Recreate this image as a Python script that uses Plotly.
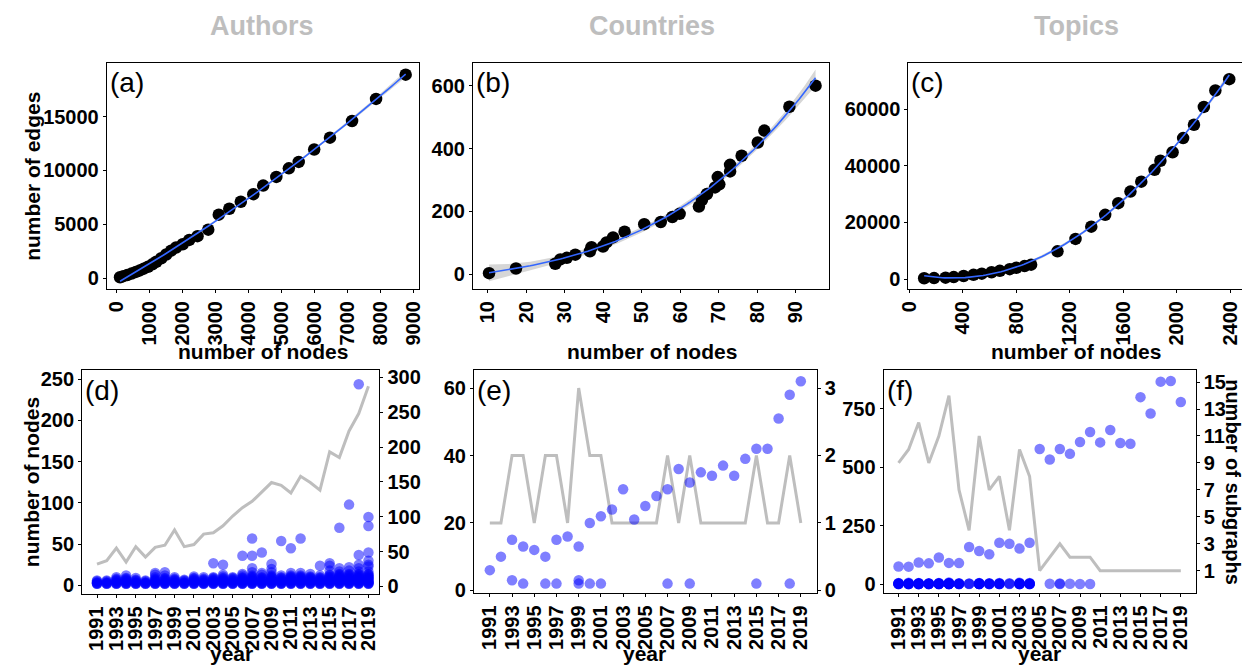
import numpy as np
import plotly.graph_objects as go

# ---------------- data ----------------
a_nodes = [100, 200, 320, 450, 580, 700, 820, 950, 1080, 1200, 1350, 1500, 1650, 1800, 2000, 2200, 2450,
           2775, 3094, 3413, 3762, 4142, 4441, 4840, 5220, 5519, 5988, 6467, 7136, 7864, 8762]
a_edges = [80, 180, 280, 420, 580, 720, 880, 1060, 1280, 1520, 1850, 2200, 2550, 2850, 3150, 3550, 3900,
           4500, 5900, 6450, 7100, 7800, 8600, 9400, 10200, 10800, 11950, 13050, 14600, 16650, 18900]

b_nodes = [10.3, 17.3, 27.5, 28.8, 30.5, 32.7, 36.5, 36.9, 39.9, 40.8, 42.5, 45.5, 50.6, 54.9, 57.9, 59.8,
           64.8, 65.6, 66.9, 69.0, 69.7, 70.1, 72.9, 72.9, 75.9, 80.1, 81.8, 88.3, 95.1]
b_edges = [3, 18, 33, 47, 52, 62, 73, 86, 88, 101, 117, 135, 159, 166, 182, 192,
           215, 236, 255, 276, 309, 286, 327, 348, 377, 419, 457, 533, 600]

c_nodes = [111, 185, 271, 332, 406, 480, 542, 615, 677, 751, 800, 862, 911, 1108, 1243, 1361, 1465, 1563,
           1654, 1735, 1834, 1878, 1969, 2048, 2129, 2203, 2289, 2393]
c_edges = [300, 350, 500, 700, 1100, 1500, 1900, 2400, 2900, 3500, 4000, 4600, 5100, 9800, 14200, 18500,
           22700, 26800, 30900, 34400, 38600, 41800, 44800, 49800, 54500, 60800, 66600, 70600]

years = [1991, 1992, 1993, 1994, 1995, 1996, 1997, 1998, 1999, 2000, 2001, 2002, 2003, 2004, 2005,
         2006, 2007, 2008, 2009, 2010, 2011, 2012, 2013, 2014, 2015, 2016, 2017, 2018, 2019]

# Authors: subgraph sizes per year (visible values) and number of subgraphs
d_sizes = [
    [2, 2, 3, 3, 4, 5, 6],
    [2, 2, 3, 3, 4, 5, 6],
    [2, 2, 3, 3, 4, 5, 6, 7, 8, 10],
    [2, 2, 3, 3, 4, 5, 6, 7, 8, 9, 12],
    [2, 2, 3, 3, 4, 5, 6, 7, 9],
    [2, 2, 3, 3, 4, 5, 6],
    [2, 2, 3, 3, 4, 5, 6, 7, 8, 10, 13, 15],
    [2, 2, 3, 3, 4, 5, 6, 7, 8, 9, 12, 16],
    [2, 2, 3, 3, 4, 5, 6, 7, 8, 10],
    [2, 2, 3, 3, 4, 5, 6, 7],
    [2, 2, 3, 3, 4, 5, 6, 7, 8, 9, 11],
    [2, 2, 3, 3, 4, 5, 6, 7, 8, 10],
    [2, 2, 3, 3, 4, 5, 6, 7, 8, 9, 10, 27],
    [2, 2, 3, 3, 4, 5, 6, 7, 8, 9, 11, 13, 25],
    [2, 2, 3, 3, 4, 5, 6, 7, 8, 9, 10],
    [2, 2, 3, 3, 4, 5, 6, 7, 8, 9, 10, 12, 14, 36],
    [2, 2, 3, 3, 4, 5, 6, 7, 8, 9, 10, 11, 12, 16, 21, 36, 57],
    [2, 2, 3, 3, 4, 5, 6, 7, 8, 9, 10, 13, 15, 40],
    [2, 2, 3, 3, 4, 5, 6, 7, 8, 9, 10, 11, 12, 16, 20, 26],
    [2, 2, 3, 3, 4, 5, 6, 7, 8, 9, 10, 12, 54],
    [2, 2, 3, 3, 4, 5, 6, 7, 8, 9, 10, 11, 12, 15, 45],
    [2, 2, 3, 3, 4, 5, 6, 7, 8, 9, 10, 11, 12, 15, 57],
    [2, 2, 3, 3, 4, 5, 6, 7, 8, 9, 10, 11, 14],
    [2, 2, 3, 3, 4, 5, 6, 7, 8, 9, 10, 12, 24],
    [2, 2, 3, 3, 4, 5, 6, 7, 8, 9, 10, 11, 12, 13, 18, 24, 27],
    [2, 2, 3, 3, 4, 5, 6, 7, 8, 9, 10, 11, 12, 13, 14, 17, 21, 70],
    [2, 2, 3, 3, 4, 5, 6, 7, 8, 9, 10, 11, 12, 13, 14, 18, 22, 98],
    [2, 2, 3, 3, 4, 5, 6, 7, 8, 9, 10, 11, 12, 13, 14, 17, 21, 25, 37, 244],
    [2, 2, 3, 3, 4, 5, 6, 7, 8, 9, 10, 11, 12, 13, 14, 17, 23, 25, 30, 40, 72, 83],
]
d_subgraphs = [32, 37, 55, 35, 57, 42, 56, 59, 81, 57, 60, 75, 77, 87, 101, 113, 122, 136, 149, 145,
               134, 158, 149, 138, 193, 185, 223, 248, 287]

# Countries
e_sizes = [[6], [10], [15, 3], [13, 2], [12], [10, 2], [15, 2], [16], [13, 3, 2], [20, 2], [22, 2], [24],
           [30], [21], [25], [28], [30, 2], [36], [32, 2], [35], [34], [37], [34], [39], [42, 2], [42],
           [51], [58, 2], [62]]
e_subgraphs = [1, 1, 2, 2, 1, 2, 2, 1, 3, 2, 2, 1, 1, 1, 1, 1, 2, 1, 2, 1, 1, 1, 1, 1, 2, 1, 1, 2, 1]

# Topics
f_largest = [77, 76, 94, 90, 115, 92, 91, 160, 143, 129, 178, 174, 153, 178, 578, 533, 578, 557, 608,
             650, 606, 659, 603, 600, 799, 729, 865, 868, 778]
f_small = [[3, 2, 4, 2, 5, 2, 3, 6], [2, 3, 2, 4, 2, 3, 5, 2, 7], [2, 3, 2, 4, 2, 3, 5, 2, 6, 3, 2],
           [2, 3, 2, 4, 2, 3, 5, 2], [2, 3, 2, 4, 2, 3, 5, 2, 6, 3], [2, 3, 2, 4, 2, 3, 5, 2, 6, 3, 2, 4, 8],
           [2, 3, 2, 4, 2, 5], [2, 3, 4], [2, 3, 2, 4, 2, 3, 5, 2, 6, 3], [2, 3, 2, 4, 2, 5],
           [2, 3, 2, 4, 2, 3, 6], [2, 3, 5], [2, 3, 2, 4, 2, 3, 5, 2, 7], [2, 3, 2, 4, 2, 3, 6],
           [], [3], [2, 4], [3], [2], [2], [], [], [], [], [], [], [], [], []]
f_subgraphs = [9, 10, 12, 9, 11, 14, 7, 4, 11, 7, 8, 4, 10, 8, 1, 2, 3, 2, 2, 2, 1, 1, 1, 1, 1, 1, 1, 1, 1]

col_titles = ["Authors", "Countries", "Topics"]
tags = ["(a)", "(b)", "(c)", "(d)", "(e)", "(f)"]

# ---------------- helpers ----------------
# the page body keeps its default 8px margin; size the figure so it fills the window to its edges
OFF = 8
W, H = 1250 - OFF, 672 - OFF
FONT = "Liberation Sans, Arial, sans-serif"


def px(x):
    return (x - OFF) / W


def py(y):
    return 1 - (y - OFF) / H


def fit_band(x, y, deg, n=120):
    x = np.asarray(x, float)
    y = np.asarray(y, float)
    xs = np.linspace(x.min(), x.max(), n)
    X = np.vander(x, deg + 1)
    coef, *_ = np.linalg.lstsq(X, y, rcond=None)
    res = y - X @ coef
    s2 = (res @ res) / max(len(x) - deg - 1, 1)
    XtXi = np.linalg.inv(X.T @ X)
    Xs = np.vander(xs, deg + 1)
    fit = Xs @ coef
    se = np.sqrt(np.einsum("ij,jk,ik->i", Xs, XtXi, Xs) * s2)
    return xs, fit, fit - 2.05 * se, fit + 2.05 * se


def flatten(yrs, lists):
    xx, yy = [], []
    for yr, lst in zip(yrs, lists):
        for v in lst:
            xx.append(yr)
            yy.append(v)
    return xx, yy


fig = go.Figure()

BLUE_LINE = "#3366FF"
GREY = "#BEBEBE"
PT_BLUE = "rgba(0,0,255,0.5)"

# ---- top row ----
top = [(a_nodes, a_edges, 2, "x", "y"), (b_nodes, b_edges, 3, "x2", "y2"), (c_nodes, c_edges, 3, "x3", "y3")]
for xs_, ys_, deg, xa, ya in top:
    xs, fit, lo, hi = fit_band(xs_, ys_, deg)
    fig.add_trace(go.Scatter(x=np.concatenate([xs, xs[::-1]]), y=np.concatenate([hi, lo[::-1]]),
                             fill="toself", fillcolor="rgba(153,153,153,0.4)", line=dict(width=0),
                             mode="lines", hoverinfo="skip", showlegend=False, xaxis=xa, yaxis=ya))
    fig.add_trace(go.Scatter(x=xs_, y=ys_, mode="markers",
                             marker=dict(color="black", size=12.5, line=dict(width=0)),
                             showlegend=False, xaxis=xa, yaxis=ya))
    fig.add_trace(go.Scatter(x=xs, y=fit, mode="lines", line=dict(color=BLUE_LINE, width=1.6),
                             showlegend=False, xaxis=xa, yaxis=ya))

# ---- bottom row ----
# base axes (y4,y5,y6) = right axis with grey line; overlay axes (y7,y8,y9) = left axis with points
dx, dy = flatten(years, d_sizes)
ex, ey = flatten(years, e_sizes)
fx, fy = flatten(years, f_small)

fig.add_trace(go.Scatter(x=years, y=d_subgraphs, mode="lines", line=dict(color=GREY, width=3),
                         showlegend=False, xaxis="x4", yaxis="y4"))
fig.add_trace(go.Scatter(x=dx, y=dy, mode="markers", marker=dict(color=PT_BLUE, size=10.5, line=dict(width=0)),
                         showlegend=False, xaxis="x4", yaxis="y7"))
fig.add_trace(go.Scatter(x=years, y=e_subgraphs, mode="lines", line=dict(color=GREY, width=3),
                         showlegend=False, xaxis="x5", yaxis="y5"))
fig.add_trace(go.Scatter(x=ex, y=ey, mode="markers", marker=dict(color=PT_BLUE, size=10.5, line=dict(width=0)),
                         showlegend=False, xaxis="x5", yaxis="y8"))
fig.add_trace(go.Scatter(x=years, y=f_subgraphs, mode="lines", line=dict(color=GREY, width=3),
                         showlegend=False, xaxis="x6", yaxis="y6"))
fig.add_trace(go.Scatter(x=fx + list(years), y=fy + list(f_largest), mode="markers",
                         marker=dict(color=PT_BLUE, size=10.5, line=dict(width=0)),
                         showlegend=False, xaxis="x6", yaxis="y9"))

# ---------------- layout ----------------
tickfont = dict(family=FONT, size=20, color="black", weight="bold")


def ax(domain, rng, anchor, **kw):
    d = dict(domain=domain, range=rng, anchor=anchor, showgrid=False, zeroline=False,
             showline=True, linecolor="black", linewidth=1.2, mirror=True,
             ticks="outside", ticklen=3, tickcolor="black", tickwidth=1,
             tickfont=tickfont, tickformat="d")
    d.update(kw)
    return d


topY = [py(290), py(60)]
botY_d = [py(601), py(373)]
botY_e = [py(600), py(373)]

layout = dict(
    width=W, height=H, autosize=False,
    margin=dict(l=0, r=0, t=0, b=0),
    paper_bgcolor="white", plot_bgcolor="white",
    font=dict(family=FONT),
    showlegend=False,
    xaxis=ax([px(97), px(413)], [-300, 9160], "y", tickmode="linear", tick0=0, dtick=1000, tickangle=-90),
    yaxis=ax(topY, [-1000, 19980], "x", tickmode="linear", tick0=0, dtick=5000),
    xaxis2=ax([px(468), px(829)], [6.15, 98.7], "y2", tickmode="linear", tick0=10, dtick=10, tickangle=-90),
    yaxis2=ax(topY, [-47, 672], "x2", tickmode="linear", tick0=0, dtick=200),
    xaxis3=ax([px(909), px(1248)], [-7, 2496], "y3", tickmode="linear", tick0=0, dtick=400, tickangle=-90),
    yaxis3=ax(topY, [-3470, 76300], "x3", tickmode="linear", tick0=0, dtick=20000),
    xaxis4=ax([px(72), px(373)], [1989.47, 2020.12], "y4", tickmode="linear", tick0=1991, dtick=2,
              tickangle=-90),
    yaxis4=ax(botY_d, [-11.3, 309.9], "x4", side="right", tickmode="linear", tick0=0, dtick=50),
    yaxis7=ax(botY_d, [-10.7, 260.7], "x4", side="left", overlaying="y4", tickmode="linear", tick0=0, dtick=50,
              mirror=False),
    xaxis5=ax([px(469), px(816)], [1989.58, 2020.42], "y5", tickmode="linear", tick0=1991, dtick=2,
              tickangle=-90),
    yaxis5=ax(botY_e, [-0.044, 3.262], "x5", side="right", tickmode="linear", tick0=0, dtick=1),
    yaxis8=ax(botY_e, [-0.87, 65.24], "x5", side="left", overlaying="y5", tickmode="linear", tick0=0, dtick=20,
              mirror=False),
    xaxis6=ax([px(884), px(1200)], [1989.53, 2020.47], "y6", tickmode="linear", tick0=1991, dtick=2,
              tickangle=-90),
    yaxis6=ax(botY_e, [-0.68, 15.87], "x6", side="right", tickmode="linear", tick0=1, dtick=2),
    yaxis9=ax(botY_e, [-37.7, 913], "x6", side="left", overlaying="y6", tickmode="linear", tick0=0, dtick=250,
              mirror=False),
)
fig.update_layout(**layout)

ann = []
# column titles
for t, cx in zip(col_titles, [254, 649, 1079]):
    ann.append(dict(text=t, x=px(cx), y=py(22), xref="paper", yref="paper", showarrow=False,
                    xanchor="center", yanchor="middle",
                    font=dict(family=FONT, size=27, color=GREY, weight="bold")))
# panel tags
for t, (lx, cy) in zip(tags, [(97, 80), (468, 80), (909, 80), (72, 393), (469, 393), (884, 393)]):
    ann.append(dict(text=t, x=px(lx + 1), y=py(cy), xref="paper", yref="paper", showarrow=False,
                    xanchor="left", yanchor="middle",
                    font=dict(family=FONT, size=28, color="black")))
lab = dict(family=FONT, size=21, color="black", weight="bold")
for t, cx, cy, ang, fs in [("number of edges", 22, 175, -90, 21),
                           ("number of nodes", 255, 354, 0, 21), ("number of nodes", 649, 354, 0, 21),
                           ("number of nodes", 1079, 354, 0, 21),
                           ("number of nodes", 21, 487, -90, 21),
                           ("year", 223, 661, 0, 21), ("year", 642, 661, 0, 21), ("year", 1042, 661, 0, 21),
                           ("number of subgraphs", 1238, 487, 90, 20)]:
    ann.append(dict(text=t, x=px(cx), y=py(cy), xref="paper", yref="paper", showarrow=False,
                    xanchor="center", yanchor="middle", textangle=ang, font=dict(lab, size=fs)))
fig.update_layout(annotations=ann)

fig.write_html("out.html", config={"displayModeBar": False})
